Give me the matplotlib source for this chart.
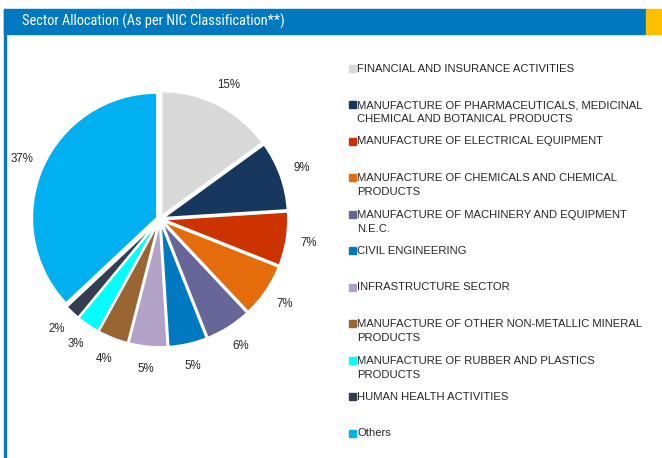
import matplotlib
matplotlib.use("Agg")
import matplotlib.pyplot as plt
from matplotlib.patches import Rectangle

categories = [
    "FINANCIAL AND INSURANCE ACTIVITIES",
    "MANUFACTURE OF PHARMACEUTICALS, MEDICINAL\nCHEMICAL AND BOTANICAL PRODUCTS",
    "MANUFACTURE OF ELECTRICAL EQUIPMENT",
    "MANUFACTURE OF CHEMICALS AND CHEMICAL\nPRODUCTS",
    "MANUFACTURE OF MACHINERY AND EQUIPMENT\nN.E.C.",
    "CIVIL ENGINEERING",
    "INFRASTRUCTURE SECTOR",
    "MANUFACTURE OF OTHER NON-METALLIC MINERAL\nPRODUCTS",
    "MANUFACTURE OF RUBBER AND PLASTICS\nPRODUCTS",
    "HUMAN HEALTH ACTIVITIES",
    "Others",
]
values = [15, 9, 7, 7, 6, 5, 5, 4, 3, 2, 37]
pct_labels = ["15%", "9%", "7%", "7%", "6%", "5%", "5%", "4%", "3%", "2%", "37%"]
colors = ["#D9D9D9", "#17375E", "#CC3300", "#E46C0A", "#666699", "#0079C1",
          "#B3A2C7", "#996633", "#00FFFF", "#333F50", "#00B0F0"]
title = "Sector Allocation (As per NIC Classification**)"

W, H = 662, 458
fig = plt.figure(figsize=(W / 100, H / 100), dpi=100)

def fx(px):
    return px / W

def fy(py):
    return 1 - py / H

# Header bar
fig.patches.append(Rectangle((fx(4), fy(34)), fx(646) - fx(4), fy(9) - fy(34),
                             transform=fig.transFigure, color="#0079C1", zorder=0))
fig.patches.append(Rectangle((fx(646), fy(34)), fx(662) - fx(646), fy(9) - fy(34),
                             transform=fig.transFigure, color="#FFC000", zorder=0))
fig.patches.append(Rectangle((fx(4), fy(458)), fx(2), fy(9) - fy(458),
                             transform=fig.transFigure, color="#0079C1", zorder=0))
fig.text(fx(22), fy(21.5), title, color="white", fontsize=10.4, va="center", ha="left",
         family=["Roboto Condensed", "Liberation Sans Narrow", "DejaVu Sans"])

# Pie
cx, cy, R = 160, 219, 125
half = 160
ax = fig.add_axes([fx(cx - half), fy(cy + half), 2 * half / W, 2 * half / H])
ax.axis("off")

wedges, texts = ax.pie(values, colors=colors, startangle=90, counterclock=False,
                       explode=[0.025] * len(values), labels=pct_labels,
                       labeldistance=1.18,
                       wedgeprops=dict(edgecolor="white", linewidth=1.5),
                       textprops=dict(fontsize=8.3, color="#262626",
                                      family=["Liberation Sans", "DejaVu Sans"]))
for t in texts:
    t.set_ha("center")
    t.set_va("center")
    t.set_clip_on(False)
ax.set_xlim(-half / R, half / R)
ax.set_ylim(-half / R, half / R)
ax.set_aspect("equal")

# Legend
lx_marker, lx_text = 349, 357
y0, step = 68, 36.5
for i, (lab, col) in enumerate(zip(categories, colors)):
    y = y0 + i * step
    fig.patches.append(Rectangle((fx(lx_marker), fy(y + 3.5)), fx(7), fy(0) - fy(7),
                                 transform=fig.transFigure, color=col))
    fig.text(fx(lx_text), fy(y - 4.5), lab, fontsize=8.1, color="#262626",
             va="top", ha="left", linespacing=1.55,
             family=["Liberation Sans", "DejaVu Sans"])

fig.savefig("out.png", dpi=100)
